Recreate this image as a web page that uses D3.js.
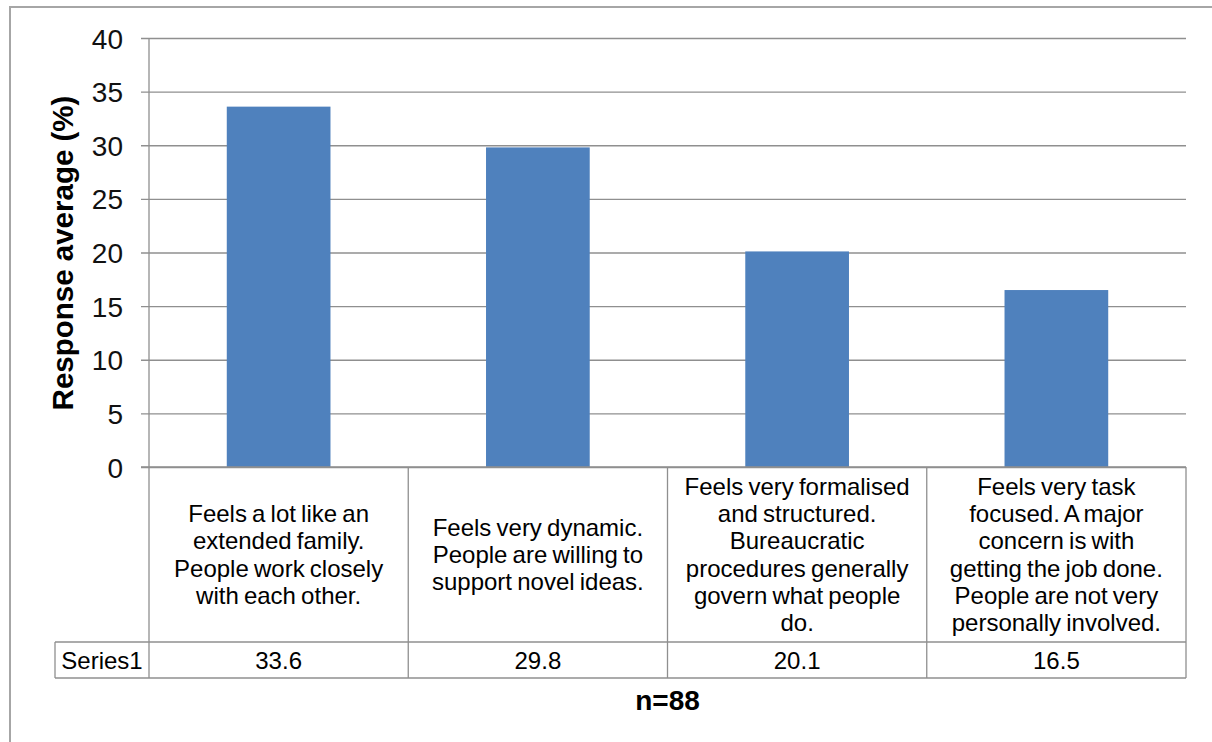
<!DOCTYPE html>
<html>
<head>
<meta charset="utf-8">
<script src="https://cdn.jsdelivr.net/npm/d3@7"></script>
<style>
  html, body { margin: 0; padding: 0; background: #fff; }
  svg { display: block; font-family: "Liberation Sans", Arial, sans-serif; }
</style>
</head>
<body>
<svg id="chart" width="1212" height="742"></svg>
<script>
// ---- data ----
const categories = [
  "Feels a lot like an\nextended family.\nPeople work closely\nwith each other.",
  "Feels very dynamic.\nPeople are willing to\nsupport novel ideas.",
  "Feels very formalised\nand structured.\nBureaucratic\nprocedures generally\ngovern what people\ndo.",
  "Feels very task\nfocused. A major\nconcern is with\ngetting the job done.\nPeople are not very\npersonally involved."
];
const values = [33.6, 29.8, 20.1, 16.5];
const seriesName = "Series1";
const yTicks = [0, 5, 10, 15, 20, 25, 30, 35, 40];
const yTitle = "Response average (%)";
const xTitle = "n=88";

// ---- layout ----
const svg = d3.select("#chart");
const pLeft = 149, pRight = 1186, pTop = 38, pBottom = 467;
const catBottom = 642, valBottom = 678, legendLeft = 55;
const gridColor = "#8f8f8f";

// outer frame
svg.append("rect").attr("x", 10).attr("y", 7).attr("width", 1230).attr("height", 760)
  .attr("fill", "none").attr("stroke", "#a6a6a6").attr("stroke-width", 2);

const y = d3.scaleLinear().domain([0, 40]).range([pBottom, pTop]);
const col = d3.scaleBand().domain(d3.range(categories.length)).range([pLeft, pRight]).padding(0);
const bar = d3.scaleBand().domain(d3.range(categories.length)).range([pLeft, pRight])
  .paddingInner(0.6).paddingOuter(0.3);

// gridlines + ticks via axis
const yAxis = d3.axisLeft(y).tickValues(yTicks).tickSize(-(pRight - pLeft)).tickSizeOuter(0).tickPadding(0);
const gAxis = svg.append("g").attr("transform", `translate(${pLeft},0)`).call(yAxis);
gAxis.select(".domain").remove();
gAxis.selectAll(".tick line").attr("stroke", gridColor).attr("stroke-width", 1.3).attr("x1", -8);
gAxis.selectAll(".tick text").attr("x", -26).attr("dy", "0.36em")
  .attr("font-size", 28).attr("fill", "#111").attr("font-family", "Liberation Sans, Arial, sans-serif");

// y axis line
svg.append("line").attr("x1", pLeft).attr("x2", pLeft).attr("y1", pTop).attr("y2", pBottom)
  .attr("stroke", gridColor).attr("stroke-width", 1.3);

// bars
svg.append("g").selectAll("rect").data(values).join("rect")
  .attr("x", (d, i) => bar(i))
  .attr("width", bar.bandwidth())
  .attr("y", d => y(d))
  .attr("height", d => y(0) - y(d))
  .attr("fill", "#4F81BD");

// data table
const tg = svg.append("g").attr("stroke", gridColor).attr("stroke-width", 1.3);
tg.append("line").attr("x1", legendLeft).attr("x2", pRight).attr("y1", catBottom).attr("y2", catBottom);
tg.append("line").attr("x1", legendLeft).attr("x2", pRight).attr("y1", valBottom).attr("y2", valBottom);
tg.append("line").attr("x1", legendLeft).attr("x2", legendLeft).attr("y1", catBottom).attr("y2", valBottom);
const bounds = categories.map((c, i) => col(i)).concat([pRight]);
tg.selectAll("line.v").data(bounds).join("line").attr("class", "v")
  .attr("x1", d => d).attr("x2", d => d).attr("y1", pBottom).attr("y2", valBottom);
// x axis (zero line) on top
svg.append("line").attr("x1", pLeft - 8).attr("x2", pRight).attr("y1", y(0)).attr("y2", y(0))
  .attr("stroke", gridColor).attr("stroke-width", 1.3);

// category labels
const lh = 27.3, fs = 24;
const catMid = (pBottom + catBottom) / 2;
categories.forEach((c, i) => {
  const lines = c.split("\n");
  const t = svg.append("text").attr("text-anchor", "middle").attr("font-size", fs)
    .attr("fill", "#000").attr("word-spacing", -1.5);
  const x0 = col(i) + col.bandwidth() / 2;
  lines.forEach((ln, k) => {
    t.append("tspan").attr("x", x0)
      .attr("y", catMid - (lines.length - 1) / 2 * lh + fs * 0.35 + k * lh)
      .text(ln);
  });
});

// value row
const valMid = (catBottom + valBottom) / 2;
svg.append("g").selectAll("text").data(values).join("text")
  .attr("x", (d, i) => col(i) + col.bandwidth() / 2)
  .attr("y", valMid + fs * 0.36)
  .attr("text-anchor", "middle").attr("font-size", fs).attr("fill", "#000")
  .text(d => d3.format(".1f")(d));
svg.append("text").attr("x", (legendLeft + pLeft) / 2).attr("y", valMid + fs * 0.36)
  .attr("text-anchor", "middle").attr("font-size", fs).attr("fill", "#000").text(seriesName);

// titles
svg.append("text").attr("transform", "translate(73,253) rotate(-90)")
  .attr("text-anchor", "middle").attr("font-size", 29.5).attr("font-weight", "bold")
  .attr("fill", "#000").text(yTitle);
svg.append("text").attr("x", (pLeft + pRight) / 2).attr("y", 710)
  .attr("text-anchor", "middle").attr("font-size", 28).attr("font-weight", "bold")
  .attr("fill", "#000").text(xTitle);
</script>
</body>
</html>
